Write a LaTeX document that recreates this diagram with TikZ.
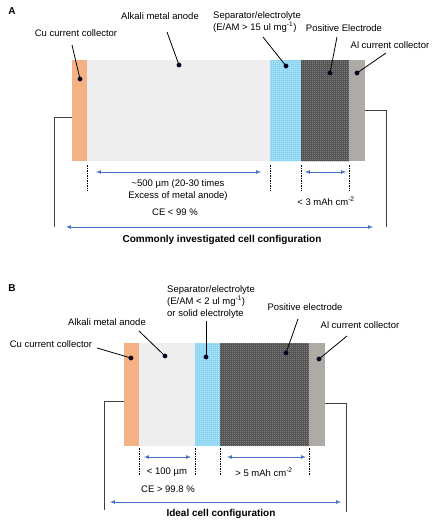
\documentclass[tikz,border=0pt]{standalone}
\usepackage{fontspec}
\setmainfont{Liberation Sans}
\usetikzlibrary{arrows,patterns}
\definecolor{cuorange}{HTML}{F4B183}
\definecolor{anodegray}{HTML}{EEEEEE}
\definecolor{sepblue}{HTML}{86D3F2}
\definecolor{seplight}{HTML}{C8EDFA}
\definecolor{posdark}{HTML}{4A4A4A}
\definecolor{poslight}{HTML}{9A9A9A}
\definecolor{algray}{HTML}{AEABA7}
\definecolor{arrowblue}{HTML}{4472C4}
\definecolor{wiregray}{HTML}{404040}
\pgfdeclarepatternformonly{finechecker}{\pgfpointorigin}{\pgfpoint{2pt}{2pt}}{\pgfpoint{2pt}{2pt}}{%
  \pgfpathrectangle{\pgfpointorigin}{\pgfpoint{1pt}{1pt}}%
  \pgfpathrectangle{\pgfpoint{1pt}{1pt}}{\pgfpoint{1pt}{1pt}}%
  \pgfusepath{fill}}
\tikzset{
  lbl/.style={inner sep=0pt, font=\fontsize{9.5}{12}\selectfont},
  ttl/.style={inner sep=0pt, font=\fontsize{10}{12}\selectfont\bfseries},
  leader/.style={line width=0.8pt},
  dotmark/.style={fill=black, draw=blue!40!black, line width=0.3pt},
  dim/.style={latex-latex, arrowblue, line width=0.7pt},
  guide/.style={dash pattern=on 1.5pt off 1pt, line width=0.5pt},
  wire/.style={wiregray, line width=0.8pt},
  sepfill/.style={fill=sepblue, postaction={pattern=finechecker, pattern color=seplight}},
  posfill/.style={fill=posdark, postaction={pattern=finechecker, pattern color=poslight}},
}

\begin{document}
\begin{tikzpicture}[x=1pt,y=-1pt]
\useasboundingbox (0,0) rectangle (439,528);

% ---- panel A
\node[ttl] (labA) at (12,11) {A};
\draw[wire] (72,117) -- (54,117) -- (54,227);
\draw[wire] (365,110) -- (386,110) -- (386,227);
\fill[cuorange] (72,60) rectangle (87,161);
\fill[anodegray] (87,60) rectangle (270,161);
\path[sepfill] (270,60) rectangle (301,161);
\path[posfill] (301,60) rectangle (349,161);
\fill[algray] (349,60) rectangle (365,161);

\node[lbl] (cuA) at (76,33) {Cu current collector};
\node[lbl] (anA) at (160,16) {Alkali metal anode};
\node[lbl, anchor=west, align=left] (sepA) at (213,22) {Separator/electrolyte\\(E/AM > 15 ul mg\textsuperscript{-1})};
\node[lbl] (posA) at (344,28) {Positive Electrode};
\node[lbl] (alA) at (390,45) {Al current collector};

\coordinate (cuA-dot) at (80,79);
\coordinate (anA-dot) at (179,65);
\coordinate (sepA-dot) at (286,66);
\coordinate (posA-dot) at (330,73);
\coordinate (alA-dot) at (357,73);
\draw[leader] (72,45) -- (cuA-dot);
\draw[leader] (167,32) -- (anA-dot);
\draw[leader] (263,37) -- (sepA-dot);
\draw[leader] (337,37) -- (posA-dot);
\draw[leader] (386,53) -- (alA-dot);
\foreach \p in {cuA-dot,anA-dot,sepA-dot,posA-dot,alA-dot}
  \draw[dotmark] (\p) circle (2.2pt);

\foreach \x in {87,270,301,349}
  \draw[guide] (\x,165) -- (\x,191);
\draw[dim] (96,172) -- (261,172);
\draw[dim] (305,172) -- (346,172);
\node[lbl, align=center] (thickA) at (178,190) {\textasciitilde500 µm (20-30 times\\Excess of metal anode)};
\node[lbl] (capA) at (326,201) {< 3 mAh cm\textsuperscript{-2}};
\node[lbl] (ceA) at (175,212) {CE < 99 \%};
\draw[dim] (66,227) -- (373,227);
\node[ttl] (cfgA) at (222,240) {Commonly investigated cell configuration};

% ---- panel B
\node[ttl] (labB) at (12,288) {B};
\draw[wire] (124,401) -- (104,401) -- (104,510);
\draw[wire] (325,403) -- (346,403) -- (346,512);
\fill[cuorange] (124,343) rectangle (139,446);
\fill[anodegray] (139,343) rectangle (195,446);
\path[sepfill] (195,343) rectangle (220,446);
\path[posfill] (220,343) rectangle (309,446);
\fill[algray] (309,343) rectangle (325,446);

\node[lbl, anchor=west, align=left] (sepB) at (167,302) {Separator/electrolyte\\(E/AM < 2 ul mg\textsuperscript{-1})\\or solid electrolyte};
\node[lbl] (anB) at (107,322) {Alkali metal anode};
\node[lbl] (cuB) at (51,344) {Cu current collector};
\node[lbl] (posB) at (305,307) {Positive electrode};
\node[lbl] (alB) at (360,325) {Al current collector};

\coordinate (cuB-dot) at (131,358);
\coordinate (anB-dot) at (165,356);
\coordinate (sepB-dot) at (206,357);
\coordinate (posB-dot) at (286,353);
\coordinate (alB-dot) at (319,359);
\draw[leader] (97,348) -- (cuB-dot);
\draw[leader] (139,331) -- (anB-dot);
\draw[leader] (206,321) -- (sepB-dot);
\draw[leader] (298,319) -- (posB-dot);
\draw[leader] (347,336) -- (alB-dot);
\foreach \p in {cuB-dot,anB-dot,sepB-dot,posB-dot,alB-dot}
  \draw[dotmark] (\p) circle (2.2pt);

\foreach \x in {139,195,220,309}
  \draw[guide] (\x,448) -- (\x,475);
\draw[dim] (144,457) -- (191,457);
\draw[dim] (227,457) -- (306,457);
\node[lbl] (thickB) at (167,472) {< 100 µm};
\node[lbl] (capB) at (264,472) {> 5 mAh cm\textsuperscript{-2}};
\node[lbl] (ceB) at (168,489) {CE > 99.8 \%};
\draw[dim] (110,502) -- (341,502);
\node[ttl] (cfgB) at (221,514) {Ideal cell configuration};
\end{tikzpicture}
\end{document}
